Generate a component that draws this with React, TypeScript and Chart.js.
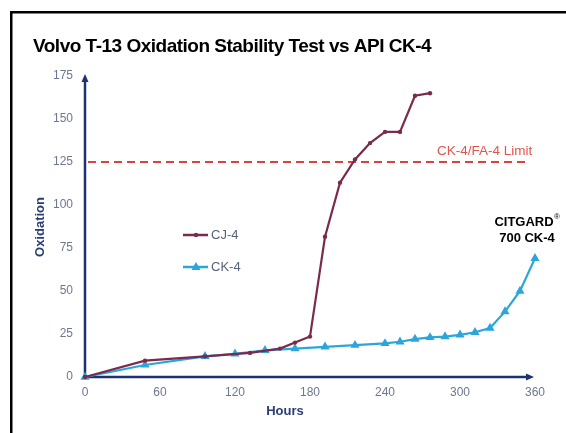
import React, { useEffect, useRef } from "react";
import { Chart, registerables } from "chart.js";

Chart.register(...registerables);

const chartTitle = "Volvo T-13 Oxidation Stability Test vs API CK-4";
const xAxisTitle = "Hours";
const yAxisTitle = "Oxidation";

const cj4Label = "CJ-4";
const cj4Hours = [0, 48, 96, 132, 156, 168, 180, 192, 204, 216, 228, 240, 252, 264, 276];
const cj4Values = [0, 9.5, 12, 14, 16.5, 20, 23.5, 81.5, 113, 126.5, 136, 142.5, 142.5, 163.5, 165];

const ck4Label = "CK-4";
const ck4Hours = [0, 48, 96, 120, 144, 168, 192, 216, 240, 252, 264, 276, 288, 300, 312, 324, 336, 348, 360];
const ck4Values = [0, 7, 12, 13.5, 15.5, 16.5, 17.5, 18.5, 19.5, 20.5, 22, 23, 23.5, 24.5, 26, 28.5, 38, 50, 69];

const xTicks = [0, 60, 120, 180, 240, 300, 360];
const yTicks = [0, 25, 50, 75, 100, 125, 150, 175];

const limitValue = 125;
const limitLabel = "CK-4/FA-4 Limit";
const noteLine1 = "CITGARD";
const noteLine2 = "700 CK-4";

const MAROON = "#7a2a4c";
const CYAN = "#2aa6dd";
const NAVY = "#1e3170";
const RED = "#d9433b";
const TICK = "#6e7790";
const FONT = "'Liberation Sans', Arial, sans-serif";

const decor = {
  id: "decor",
  beforeDraw(chart: any) {
    const ctx = chart.ctx;
    ctx.save();
    ctx.fillStyle = "#ffffff";
    ctx.fillRect(0, 0, chart.width, chart.height);
    ctx.fillStyle = "#000000";
    ctx.fillRect(10, 11, chart.width - 10, 2.5);
    ctx.fillRect(10, 11, 2.5, chart.height - 11);
    ctx.font = `bold 19px ${FONT}`;
    try { (ctx as any).letterSpacing = "-0.5px"; } catch (e) {}
    ctx.textBaseline = "alphabetic";
    ctx.textAlign = "left";
    ctx.fillText(chartTitle, 33, 52);
    try { (ctx as any).letterSpacing = "0px"; } catch (e) {}
    ctx.restore();
  },
  beforeDatasetsDraw(chart: any) {
    const ctx = chart.ctx;
    const { left, right, top, bottom } = chart.chartArea;
    const ys = chart.scales.y;
    ctx.save();
    ctx.strokeStyle = NAVY;
    ctx.fillStyle = NAVY;
    ctx.lineWidth = 2.5;
    ctx.beginPath();
    ctx.moveTo(left, bottom);
    ctx.lineTo(left, top + 4);
    ctx.moveTo(left, bottom);
    ctx.lineTo(right - 5, bottom);
    ctx.stroke();
    ctx.beginPath();
    ctx.moveTo(left, top - 2);
    ctx.lineTo(left - 3.5, top + 6);
    ctx.lineTo(left + 3.5, top + 6);
    ctx.closePath();
    ctx.fill();
    ctx.beginPath();
    ctx.moveTo(right - 1, bottom);
    ctx.lineTo(right - 9, bottom - 3.5);
    ctx.lineTo(right - 9, bottom + 3.5);
    ctx.closePath();
    ctx.fill();
    const ly = ys.getPixelForValue(limitValue);
    ctx.strokeStyle = RED;
    ctx.lineWidth = 2;
    ctx.setLineDash([8, 5]);
    ctx.beginPath();
    ctx.moveTo(left + 3, ly);
    ctx.lineTo(right - 8, ly);
    ctx.stroke();
    ctx.setLineDash([]);
    ctx.fillStyle = "#e0554f";
    ctx.font = `13.5px ${FONT}`;
    ctx.textAlign = "left";
    ctx.textBaseline = "middle";
    ctx.fillText(limitLabel, 437, ly - 11);
    ctx.restore();
  },
  afterDatasetsDraw(chart: any) {
    const ctx = chart.ctx;
    ctx.save();
    const items = [
      { label: cj4Label, color: MAROON, y: 235, tri: false },
      { label: ck4Label, color: CYAN, y: 267, tri: true },
    ];
    for (const it of items) {
      ctx.strokeStyle = it.color;
      ctx.fillStyle = it.color;
      ctx.lineWidth = 2.5;
      ctx.beginPath();
      ctx.moveTo(183, it.y);
      ctx.lineTo(208, it.y);
      ctx.stroke();
      ctx.beginPath();
      if (it.tri) {
        ctx.moveTo(196, it.y - 5);
        ctx.lineTo(191.5, it.y + 3);
        ctx.lineTo(200.5, it.y + 3);
        ctx.closePath();
      } else {
        ctx.arc(196, it.y, 2.2, 0, Math.PI * 2);
      }
      ctx.fill();
      ctx.fillStyle = "#59617a";
      ctx.font = `13px ${FONT}`;
      ctx.textAlign = "left";
      ctx.textBaseline = "middle";
      ctx.fillText(it.label, 211, it.y + 0.5);
    }
    ctx.fillStyle = "#000000";
    ctx.font = `bold 13px ${FONT}`;
    ctx.textAlign = "center";
    ctx.textBaseline = "middle";
    ctx.fillText(noteLine1, 524, 222);
    const w1 = ctx.measureText(noteLine1).width;
    ctx.font = `8px ${FONT}`;
    ctx.textAlign = "left";
    ctx.fillText("\u00AE", 524 + w1 / 2 + 0.5, 217);
    ctx.font = `bold 13px ${FONT}`;
    ctx.textAlign = "center";
    ctx.fillText(noteLine2, 527, 238);
    ctx.fillStyle = "#2a3d74";
    ctx.font = `bold 13px ${FONT}`;
    ctx.fillText(xAxisTitle, 285, 411);
    ctx.translate(40, 227);
    ctx.rotate(-Math.PI / 2);
    ctx.fillText(yAxisTitle, 0, 0);
    ctx.restore();
  },
};

export default function App() {
  const canvasRef = useRef<HTMLCanvasElement | null>(null);

  useEffect(() => {
    if (!canvasRef.current) return;
    const chart = new Chart(canvasRef.current, {
      type: "line",
      data: {
        datasets: [
          {
            label: cj4Label,
            data: cj4Hours.map((h, i) => ({ x: h, y: cj4Values[i] })),
            borderColor: MAROON,
            backgroundColor: MAROON,
            borderWidth: 2.2,
            pointStyle: "circle",
            pointRadius: 2.2,
            pointBorderWidth: 0,
            tension: 0,
            clip: false,
          },
          {
            label: ck4Label,
            data: ck4Hours.map((h, i) => ({ x: h, y: ck4Values[i] })),
            borderColor: CYAN,
            backgroundColor: CYAN,
            borderWidth: 2.2,
            pointStyle: "triangle",
            pointRadius: 5.3,
            pointBorderWidth: 0,
            tension: 0,
            clip: false,
          },
        ],
      },
      options: {
        animation: false,
        responsive: false,
        maintainAspectRatio: false,
        devicePixelRatio: 1,
        layout: { padding: { left: 30, right: 31, top: 76, bottom: 26 } },
        plugins: {
          legend: { display: false },
          tooltip: { enabled: false },
          title: { display: false },
        },
        scales: {
          x: {
            type: "linear",
            min: 0,
            max: 360,
            grid: { display: false, drawTicks: false },
            border: { display: false },
            afterBuildTicks: (s: any) => { s.ticks = xTicks.map((v) => ({ value: v })); },
            afterFit: (s: any) => { s.height = 30; },
            ticks: {
              padding: 8,
              color: TICK,
              font: { family: FONT, size: 12 },
              maxRotation: 0,
            },
          },
          y: {
            type: "linear",
            min: 0,
            max: 175,
            grid: { display: false, drawTicks: false },
            border: { display: false },
            afterBuildTicks: (s: any) => { s.ticks = yTicks.map((v) => ({ value: v })); },
            afterFit: (s: any) => { s.width = 55; },
            ticks: {
              padding: 12,
              color: TICK,
              font: { family: FONT, size: 12 },
            },
          },
        },
      },
      plugins: [decor],
    });
    return () => chart.destroy();
  }, []);

  return (
    <div style={{ position: "absolute", left: 0, top: 0, width: 566, height: 433 }}>
      <canvas ref={canvasRef} width={566} height={433} style={{ width: 566, height: 433, display: "block" }} />
    </div>
  );
}
